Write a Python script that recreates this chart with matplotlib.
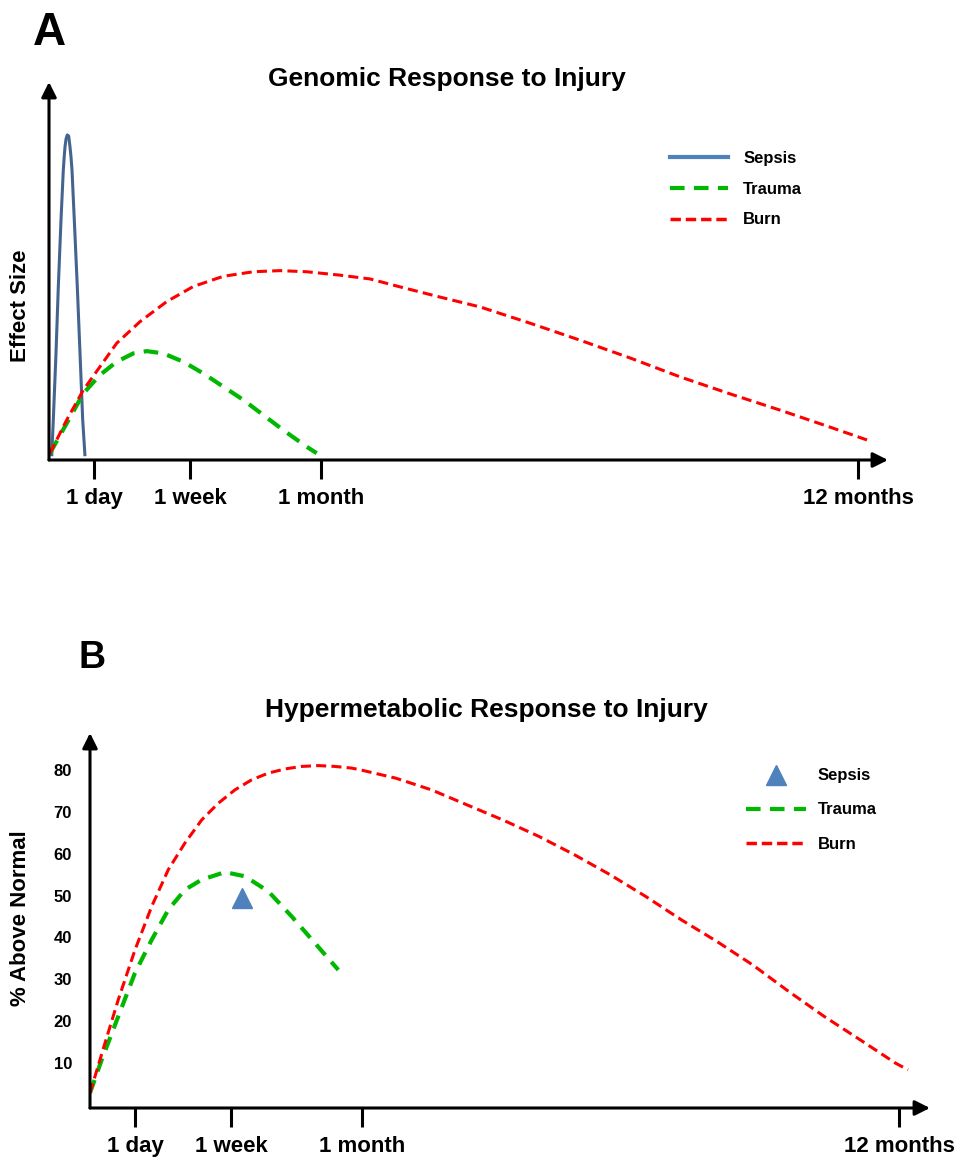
import matplotlib.pyplot as plt
from matplotlib.lines import Line2D

plt.rcParams['font.family'] = ['Liberation Sans', 'DejaVu Sans']
plt.rcParams['font.weight'] = 'bold'

# shared time axis (schematic position units)
tick_pos = [4.5, 14.1, 27.2, 80.9]
tick_labels = ["1 day", "1 week", "1 month", "12 months"]

# Panel A - genomic response (effect size, arbitrary units)
a_sepsis_x = [0.27, 0.43, 0.70, 0.93, 1.20, 1.43, 1.52, 1.60, 1.70, 1.83, 1.97, 2.10, 2.20,
              2.30, 2.53, 2.83, 3.10, 3.37, 3.60]
a_sepsis_y = [1.0, 10.6, 28.3, 45.8, 63.5, 76.7, 80.2, 82.8, 84.9, 86.0, 85.7, 82.8, 80.2,
              76.7, 63.5, 45.8, 28.3, 10.6, 1.0]

a_trauma_x = [0.1, 1.77, 3.43, 5.1, 6.77, 8.43, 9.77, 11.43, 13.43, 15.43, 17.43, 19.43,
              21.43, 23.43, 25.77, 26.77]
a_trauma_y = [1.8, 9.7, 17.6, 22.5, 26.0, 28.2, 28.8, 28.2, 26.0, 22.9, 19.4, 15.9,
              11.9, 7.9, 3.5, 1.8]

a_burn_x = [0.1, 1.77, 3.43, 5.1, 6.77, 9.1, 11.77, 14.43, 17.43, 20.43, 23.1, 25.77, 29.1,
            32.1, 35.1, 39.1, 43.1, 48.1, 53.1, 58.1, 63.1, 68.1, 73.1, 78.1, 81.8]
a_burn_y = [1.8, 10.6, 18.5, 24.7, 30.9, 36.6, 41.9, 45.9, 48.6, 49.8, 50.1, 49.8, 48.9,
            47.9, 45.8, 43.1, 40.5, 36.2, 31.7, 27.0, 22.0, 17.5, 13.2, 8.7, 5.3]

# Panel B - hypermetabolic response (% above normal)
b_yticks = [10, 20, 30, 40, 50, 60, 70, 80]
b_sepsis_x = [15.2]
b_sepsis_y = [49.5]

b_trauma_x = [0.0, 1.17, 2.83, 4.5, 6.17, 7.83, 9.5, 11.17, 13.5, 15.5, 17.83, 20.17,
              22.5, 24.83]
b_trauma_y = [2.75, 10.7, 21.1, 31.5, 39.4, 46.6, 51.4, 53.8, 55.6, 54.6, 51.0, 45.0,
              38.6, 32.2]

b_burn_x = [0.0, 1.5, 2.83, 4.5, 6.17, 7.83, 9.5, 11.17, 12.83, 14.5, 16.17, 17.83, 19.5,
            21.17, 22.83, 24.5, 26.17, 27.0, 30.57, 34.14, 37.7, 41.28, 44.85, 48.42, 52.0,
            55.56, 59.13, 62.7, 66.27, 69.84, 73.4, 77.0, 80.55, 81.8]
b_burn_y = [2.75, 14.7, 25.1, 37.0, 47.4, 56.2, 62.6, 68.1, 72.1, 75.3, 77.7, 79.3, 80.3,
            80.9, 81.1, 80.9, 80.5, 80.1, 78.1, 75.3, 71.7, 68.1, 64.2, 59.8, 55.0,
            49.8, 44.2, 39.0, 33.4, 27.1, 21.1, 15.5, 9.9, 8.3]

blue_dark = '#44648F'
blue = '#4F81BD'
green = '#00B800'
red = '#FF0000'

W, H = 963, 1161
fig = plt.figure(figsize=(W / 100, H / 100), dpi=100)


def box(l, t, r, b):
    return [l / W, 1 - b / H, (r - l) / W, (b - t) / H]


def arrow_axes(ax):
    for s in ax.spines.values():
        s.set_visible(False)
    kw = dict(arrowstyle='-|>,head_length=0.6,head_width=0.3', lw=2.2, color='black',
              shrinkA=0, shrinkB=0, mutation_scale=15)
    ax.annotate('', xy=(1, 0), xytext=(0, 0), xycoords='axes fraction', arrowprops=kw)
    ax.annotate('', xy=(0, 1), xytext=(0, 0), xycoords='axes fraction', arrowprops=kw)
    ax.set_xticks(tick_pos, tick_labels)
    ax.tick_params(axis='x', direction='out', length=13.5, width=2.2, pad=7, labelsize=16)


# ---- A ----
axA = fig.add_axes(box(49, 82, 888, 460))
axA.set_xlim(0, 83.9)
axA.set_ylim(0, 100)
axA.plot(a_sepsis_x, a_sepsis_y, color=blue_dark, lw=2.2, solid_capstyle='butt',
         solid_joinstyle='round')
axA.plot(a_trauma_x, a_trauma_y, color=green, lw=3, dashes=(3.5, 2.25))
axA.plot(a_burn_x, a_burn_y, color=red, lw=2.2, dashes=(3.3, 1.7))
arrow_axes(axA)
axA.set_yticks([])

hA = [Line2D([], [], color=blue, lw=3),
      Line2D([], [], color=green, lw=3, dashes=(3.5, 2.25)),
      Line2D([], [], color=red, lw=2.5, dashes=(3.0, 1.4))]
axA.legend(hA, ["Sepsis", "Trauma", "Burn"], loc='center left',
           bbox_to_anchor=(670 / W, 1 - 189 / H), bbox_transform=fig.transFigure,
           frameon=False, fontsize=12, handlelength=3.5, handletextpad=0.9,
           labelspacing=0.95, borderpad=0, borderaxespad=0)

fig.text(447 / W, 1 - 86 / H, "Genomic Response to Injury", fontsize=19,
         ha='center', va='baseline')
fig.text(21 / W, 1 - 306 / H, "Effect Size", fontsize=16, rotation=90,
         ha='center', va='center')
fig.text(49 / W, 1 - 45 / H, "A", fontsize=33, ha='center', va='baseline')

# ---- B ----
axB = fig.add_axes(box(90, 733, 930, 1108))
axB.set_xlim(0, 84)
axB.set_ylim(-0.84, 88.9)
axB.plot(b_trauma_x, b_trauma_y, color=green, lw=3, dashes=(3.3, 2.2))
axB.plot(b_burn_x, b_burn_y, color=red, lw=2.2, dashes=(3.3, 1.7))
axB.plot(b_sepsis_x, b_sepsis_y, linestyle='none', marker='^', color=blue, markersize=14)
arrow_axes(axB)
axB.set_yticks(b_yticks)
axB.tick_params(axis='y', length=0, pad=13, labelsize=12)

hB = [Line2D([], [], linestyle='none', marker='^', color=blue, markersize=14),
      Line2D([], [], color=green, lw=3, dashes=(3.5, 2.25)),
      Line2D([], [], color=red, lw=2.5, dashes=(3.0, 1.4))]
axB.legend(hB, ["Sepsis", "Trauma", "Burn"], loc='center left',
           bbox_to_anchor=(746 / W, 1 - 810 / H), bbox_transform=fig.transFigure,
           frameon=False, fontsize=12, handlelength=3.6, handletextpad=0.7,
           labelspacing=1.15, borderpad=0, borderaxespad=0)

fig.text(486 / W, 1 - 717 / H, "Hypermetabolic Response to Injury", fontsize=19,
         ha='center', va='baseline')
fig.text(21 / W, 1 - 918 / H, "% Above Normal", fontsize=16, rotation=90,
         ha='center', va='center')
fig.text(92 / W, 1 - 668 / H, "B", fontsize=27, ha='center', va='baseline')

fig.savefig('out.png', dpi=100)
